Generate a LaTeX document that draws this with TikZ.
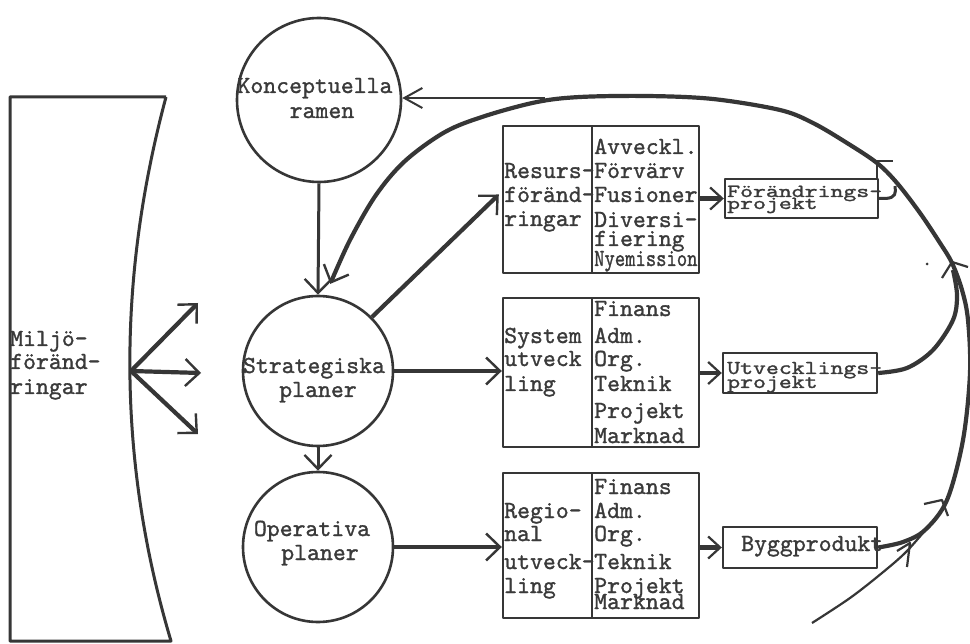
\documentclass[tikz,border=0pt]{standalone}
\usetikzlibrary{arrows.meta,calc}
\definecolor{ink}{HTML}{363636}
\definecolor{typeink}{HTML}{3A3A3A}
% typewriter face, slightly thickened like a ribbon impression
\font\twfont="[lmmono10-regular]:embolden=1.2" at 24.6pt

\begin{document}
\begin{tikzpicture}[x=1pt,y=-1pt,line join=round,
  barb/.tip={Straight Barb[length=14pt,width=27pt,line width=2.4pt]},
  smallbarb/.tip={Straight Barb[length=12pt,width=22pt,line width=2.2pt]},
  thinbarb/.tip={Straight Barb[length=18pt,width=20pt,line width=2pt]},
  heavy/.style={draw=ink,line width=4.2pt},
  medium/.style={draw=ink,line width=3pt},
  light/.style={draw=ink,line width=2.2pt},
  ring/.style={draw=ink,line width=2.6pt,circle,inner sep=0pt,minimum size=#1},
  cell/.style={draw=ink,line width=2.4pt,rectangle,inner sep=0pt},
  txt/.style={font=\twfont,text=typeink,inner sep=0pt,anchor=base west},
  ctxt/.style={txt,anchor=base}
]
\useasboundingbox (0,0) rectangle (970,644);
\fill[white] (0,0) rectangle (970,644);

% environment block with its concave right side
\draw[ink,line width=3pt] (166,97) -- (10,97) -- (10,641) -- (171,641)
  .. controls (117,460) and (117,280) .. (166,97);
\node[txt] (mil1) at (10,346) {Milj\"o-};
\node[txt] (mil2) at (10,369) {f\"or\"and-};
\node[txt] (mil3) at (10,394) {ringar};
\coordinate (mo) at (131,371);
\coordinate (mu) at (198,303);
\coordinate (mm) at (201,373);
\coordinate (md) at (198,434);
\draw[heavy,-barb] (mo) -- (mu);
\draw[heavy,-barb] (mo) -- (mm);
\draw[heavy,-barb] (mo) -- (md);

% planning circles
\node[ring=164] (kon) at (319,100) {};
\node[ring=150] (strat) at (318,371) {};
\node[ring=150] (oper) at (318,547) {};
\node[ctxt] (kon1) at (315,93) {Konceptuella};
\node[ctxt] (kon2) at (322,118) {ramen};
\node[ctxt] (str1) at (314,373) {Strategiska};
\node[ctxt] (str2) at (318,397) {planer};
\node[ctxt] (ope1) at (312,536) {Operativa};
\node[ctxt] (ope2) at (320,560) {planer};

% two-column boxes
\node[cell,minimum width=89,minimum height=147] (resL) at (547.5,199.5) {};
\node[cell,minimum width=107,minimum height=147] (resR) at (645.5,199.5) {};
\node[cell,minimum width=89,minimum height=149] (sysL) at (547.5,372.5) {};
\node[cell,minimum width=107,minimum height=149] (sysR) at (645.5,372.5) {};
\node[cell,minimum width=89,minimum height=145] (regL) at (547.5,545.5) {};
\node[cell,minimum width=107,minimum height=145] (regR) at (645.5,545.5) {};

\foreach \t/\y [count=\i] in {Resurs-/178,f\"or\"and-/202,ringar/226}
  \node[txt] (resLt\i) at (504,\y) {\t};
\foreach \t/\y [count=\i] in {Avveckl./154,F\"orv\"arv/178,Fusioner/202,Diversi-/227,fiering/246}
  \node[txt] (resRt\i) at (594,\y) {\t};
\node[txt] (resRt6) at (594,266) {\scalebox{0.8}[1]{Nyemission}};

\foreach \t/\y [count=\i] in {System/343,utveck/366,ling/391}
  \node[txt] (sysLt\i) at (504,\y) {\t};
\foreach \t/\y [count=\i] in {Finans/316,Adm./343,Org./366,Teknik/391,Projekt/418,Marknad/443}
  \node[txt] (sysRt\i) at (594,\y) {\t};

\foreach \t/\y [count=\i] in {Regio-/518,nal/541,utveck-/569,ling/593}
  \node[txt] (regLt\i) at (504,\y) {\t};
\foreach \t/\y [count=\i] in {Finans/494,Adm./518,Org./541,Teknik/569,Projekt/593,Marknad/609}
  \node[txt] (regRt\i) at (594,\y) {\t};

% project boxes
\node[cell,minimum width=153,minimum height=39] (foer) at (801.5,198.5) {};
\node[cell,minimum width=154,minimum height=40] (utv) at (800,373) {};
\node[cell,minimum width=154,minimum height=41] (bygg) at (800,547.5) {};
\node[txt] (foer1) at (727,197) {\scalebox{1}[0.75]{F\"or\"andrings-}};
\node[txt] (foer2) at (727,209) {\scalebox{1}[0.75]{projekt}};
\node[txt] (utv1) at (727,374) {\scalebox{1}[0.8]{Utvecklings-}};
\node[txt] (utv2) at (727,388) {\scalebox{1}[0.8]{projekt}};
\node[txt] (bygg1) at (741,551) {Byggprodukt};

% connectors between circles and boxes
\draw[medium,-barb] (kon.south) -- (strat.north);
\draw[medium,-barb] (strat.south) -- (oper.north);
\draw[heavy,-barb] (strat.45) -- ($(resL.west)+(-3,-5)$);
\draw[heavy,-barb] (strat.east) -- (strat.east -| sysL.west);
\draw[heavy,-barb] (oper.east) -- (oper.east -| regL.west);
\draw[heavy,-smallbarb] (foer.west -| resR.east) -- (foer.west);
\draw[heavy,-smallbarb] (utv.west -| sysR.east) -- (utv.west);
\draw[heavy,-smallbarb] (bygg.west -| regR.east) -- (bygg.west);

% feedback loop back to the strategic plans
\coordinate (stopin) at ($(strat.80)+(-1,-12)$);
\draw[heavy,-barb] plot[smooth,tension=0.55] coordinates {
  (bygg.east) (903,542) (925,530) (947,500) (963,440) (970,373) (968,320)
  (962,290) (952,263) (940,243) (920,213) (897,183) (877,163) (847,143)
  (813,123) (780,110) (713,99) (647,96) (580,97) (537,102) (485,116)
  (445,132) (405,161) (376,195) (350,240) (stopin)};
\draw[heavy] plot[smooth,tension=0.55] coordinates {
  (utv.east) (907,368) (933,350) (953,320) (957,295) (953,270)};
\coordinate (cstart) at (812,623);
\draw[light] plot[smooth,tension=0.55] coordinates {
  (cstart) (850,598) (882,573) (906,552) (928,527)};
\draw[medium] (foer.east) -- ++(6,0) .. controls (896,198) and (896,193) .. (895,186);
\coordinate (kj) at (545,98);
\draw[light,-thinbarb] (kj) -- (kj -| kon.east);

% arrowheads marking the direction along the loop
\draw[light] (877,178) -- (877,161) -- (893,161);
\draw[light] (942,278) -- (952,262) -- (968,267);
\draw[light] (924,504) -- (942,500) -- (948,516);
\draw[light] (897,551) -- (910,543) -- (907,567);
\fill[ink] (927,264) circle (1.5);
\end{tikzpicture}
\end{document}
